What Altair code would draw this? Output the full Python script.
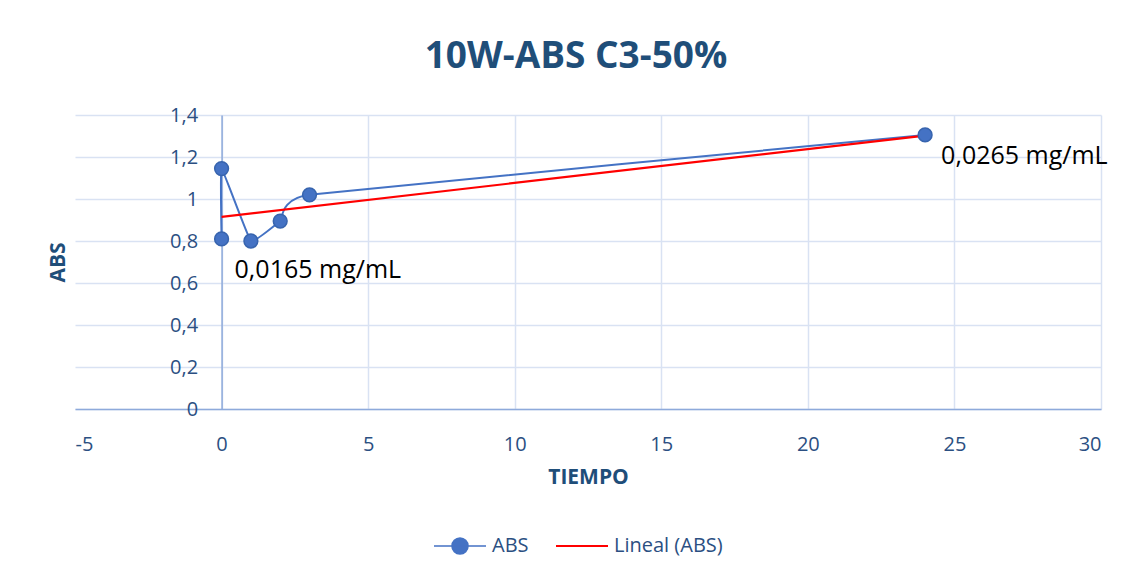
import altair as alt
import pandas as pd

# Medidas de absorbancia en el tiempo
tiempo = [0, 0, 1, 2, 3, 24]
absorbancia = [0.81, 1.145, 0.80, 0.895, 1.02, 1.305]
orden = [1, 2, 3, 4, 5, 6]
etiquetas = ["0,0165 mg/mL", "", "", "", "", "0,0265 mg/mL"]

x_ticks = [-5, 0, 5, 10, 15, 20, 25, 30]
y_ticks = [0, 0.2, 0.4, 0.6, 0.8, 1.0, 1.2, 1.4]

df = pd.DataFrame({
    "TIEMPO": tiempo,
    "ABS": absorbancia,
    "orden": orden,
    "etiqueta": etiquetas,
    "serie": ["ABS"] * len(tiempo),
})

AZUL = "#4472C4"
AZUL_OSCURO = "#1F4E79"
TEXTO = "#2B4F82"
REJILLA = "#D9E2F3"
EJE = "#8EAADB"
FUENTE = "Open Sans, sans-serif"

W, H = 1026, 294
x_scale = alt.Scale(domain=[-5, 30], nice=False, zero=False)
y_scale = alt.Scale(domain=[0, 1.4], nice=False)

x_axis = alt.Axis(
    values=x_ticks, title="TIEMPO", titleFontSize=21, titleFontWeight="bold",
    titleColor=AZUL_OSCURO, titlePadding=12, labelFontSize=20, labelColor=TEXTO,
    labelPadding=25, labelExpr="'' + datum.value", ticks=False,
    domainColor=EJE, domainWidth=1.5, gridColor=REJILLA, gridWidth=1.5,
    gridOpacity={"condition": {"test": "datum.value == -5", "value": 0}, "value": 1},
)
y_axis = alt.Axis(
    values=y_ticks, title="ABS", titleFontSize=21, titleFontWeight="bold",
    titleColor=AZUL_OSCURO, titlePadding=101, labelFontSize=20, labelColor=TEXTO,
    labelPadding=24, labelExpr="replace(format(datum.value, '~g'), '.', ',')",
    ticks=False, offset=-W * 5 / 35, domainColor=EJE, domainWidth=1.5,
    gridColor=REJILLA, gridWidth=1.5,
)

base = alt.Chart(df)
X = alt.X("TIEMPO:Q", scale=x_scale)
Y = alt.Y("ABS:Q", scale=y_scale)

# Sombra gris entre la serie y la tendencia en el tramo largo
sombra = (
    base.transform_joinaggregate(mx="mean(TIEMPO)", my="mean(ABS)")
    .transform_calculate(
        dxy="(datum.TIEMPO - datum.mx) * (datum.ABS - datum.my)",
        dxx="(datum.TIEMPO - datum.mx) * (datum.TIEMPO - datum.mx)",
    )
    .transform_joinaggregate(sxy="sum(dxy)", sxx="sum(dxx)")
    .transform_calculate(ajuste="datum.my + datum.sxy / datum.sxx * (datum.TIEMPO - datum.mx)")
    .transform_filter("datum.TIEMPO >= 3")
    .mark_area(color="#CCCCCC", opacity=0.8)
    .encode(
        x=alt.X("TIEMPO:Q", scale=x_scale, axis=x_axis),
        y=alt.Y("ABS:Q", scale=y_scale, axis=y_axis),
        y2="ajuste:Q",
        order="orden:Q",
    )
)

# Serie suavizada en el orden de las lecturas
linea = base.mark_line(interpolate="cardinal", tension=0.72, strokeWidth=2).encode(
    x=X, y=Y, order="orden:Q", stroke=alt.value(AZUL),
)

tendencia = (
    base.transform_regression("TIEMPO", "ABS", method="linear")
    .transform_calculate(serie="'Lineal (ABS)'")
    .mark_line(strokeWidth=2.2)
    .encode(
        x=X,
        y=Y,
        stroke=alt.Stroke(
            "serie:N",
            scale=alt.Scale(domain=["Lineal (ABS)"], range=["#FF0000"]),
            legend=alt.Legend(
                title=None, orient="none", legendX=480, legendY=404,
                symbolType="stroke", symbolSize=2704, symbolStrokeWidth=2,
                labelFontSize=20, labelColor=TEXTO, labelFont=FUENTE, labelOffset=5,
            ),
        ),
    )
)

SIMBOLO = "M-1,0L1,0M0.31,0A0.31,0.31,0,1,1,-0.31,0A0.31,0.31,0,1,1,0.31,0Z"
puntos = base.mark_point(filled=True, size=190, opacity=1, stroke="#3764AE", strokeWidth=1.5).encode(
    x=X,
    y=Y,
    fill=alt.Fill(
        "serie:N",
        scale=alt.Scale(domain=["ABS"], range=[AZUL]),
        legend=alt.Legend(
            title=None, orient="none", legendX=358, legendY=404,
            symbolType=SIMBOLO, symbolSize=2704, symbolStrokeColor=AZUL,
            symbolStrokeWidth=1.5, symbolOpacity=1,
            labelFontSize=20, labelColor=TEXTO, labelFont=FUENTE, labelOffset=5,
        ),
    ),
)

etiqueta_ini = base.transform_filter("datum.orden == 1").mark_text(
    align="left", baseline="middle", dx=13, dy=31, fontSize=25, color="black", font=FUENTE
).encode(x=X, y=Y, text="etiqueta:N")

etiqueta_fin = base.transform_filter("datum.orden == 6").mark_text(
    align="left", baseline="middle", dx=16, dy=21, fontSize=25, color="black", font=FUENTE
).encode(x=X, y=Y, text="etiqueta:N")

chart = (
    alt.layer(sombra, linea, tendencia, puntos, etiqueta_ini, etiqueta_fin)
    .properties(
        width=W,
        height=H,
        title=alt.TitleParams(
            "10W-ABS C3-50%", fontSize=37, fontWeight="bold", color=AZUL_OSCURO,
            font=FUENTE, anchor="middle", baseline="alphabetic", offset=0, dx=-12,
        ),
        autosize=alt.AutoSizeParams(type="none"),
        padding={"left": 75, "top": 115, "right": 38, "bottom": 170},
        background="white",
    )
    .configure_view(stroke=None)
    .configure_axis(labelFont=FUENTE, titleFont=FUENTE)
)

chart.save("out.html", embed_options={"renderer": "svg", "actions": False})
